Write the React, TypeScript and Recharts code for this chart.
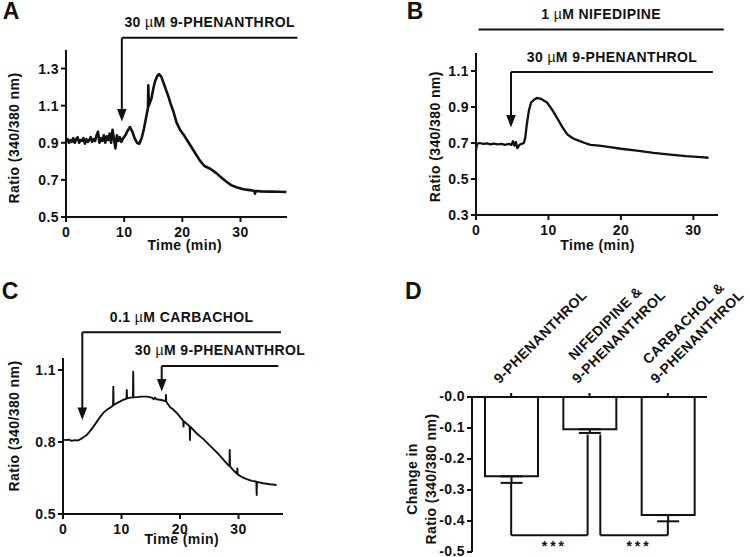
import React from 'react';
import { LineChart, Line, XAxis, YAxis, ReferenceLine, Label, BarChart, Bar, ErrorBar } from 'recharts';

const FONT = '"Liberation Sans", Arial, Helvetica, sans-serif';
const INK = '#111111';
const txt: React.CSSProperties = { fontFamily: FONT, fontWeight: 700, fontSize: 14, letterSpacing: 0.4, fill: INK };

// A: 9-phenanthrol alone
const timeA = [0, 0.25, 0.5, 0.75, 1, 1.25, 1.5, 1.75, 2, 2.25, 2.5, 2.75, 3, 3.25, 3.5, 3.75, 4, 4.25, 4.5, 4.75,
  5, 5.25, 5.5, 5.75, 6, 6.25, 6.5, 6.75, 7, 7.25, 7.5, 7.75, 8, 8.25, 8.5, 8.75, 9, 9.25, 9.5, 9.75,
  10.2, 10.6, 11.0, 11.4, 11.8, 12.2, 12.6, 13.0, 13.4, 13.8, 14.1, 14.15, 14.25, 14.7, 15.0, 15.3, 15.7, 16.0, 16.4, 16.8,
  17.2, 17.6, 18.0, 18.5, 19.0, 19.6, 20.2, 20.8, 21.4, 22.2, 23.0, 23.8, 24.8, 25.9, 26.8, 27.6, 28.4, 29.3, 30.5, 31.6,
  32.4, 32.5, 32.6, 33.5, 35, 36.5, 37.9];
const ratioA = [0.91, 0.92, 0.90, 0.915, 0.905, 0.925, 0.90, 0.92, 0.93, 0.90, 0.915, 0.91, 0.925, 0.895, 0.92, 0.905, 0.915, 0.93, 0.905, 0.92,
  0.91, 0.94, 0.96, 0.90, 0.925, 0.91, 0.94, 0.90, 0.935, 0.915, 0.95, 0.90, 0.97, 0.92, 0.87, 0.94, 0.91, 0.93, 0.905, 0.92,
  0.94, 0.965, 0.985, 0.96, 0.925, 0.90, 0.895, 0.925, 0.975, 1.04, 1.09, 1.21, 1.10, 1.14, 1.19, 1.23, 1.26, 1.27, 1.255, 1.22,
  1.185, 1.15, 1.11, 1.065, 1.01, 0.97, 0.945, 0.915, 0.885, 0.845, 0.805, 0.775, 0.76, 0.735, 0.71, 0.69, 0.672, 0.66, 0.65, 0.645,
  0.64, 0.625, 0.64, 0.638, 0.637, 0.636, 0.635];

// B: with nifedipine
const timeB = [0, 0.15, 0.5, 1, 1.5, 2, 2.5, 3, 3.5, 4, 4.5, 4.9, 5.1, 5.3, 5.5, 5.7, 6.0, 6.3, 6.6, 6.8,
  7.0, 7.3, 7.6, 8.0, 8.4, 9.0, 9.8, 10.5, 11.2, 11.9, 12.6, 13.3, 13.9, 15, 15.8, 17, 18.5, 20, 22.2, 24.5,
  26.8, 29, 31, 32.1];
const ratioB = [0.66, 0.695, 0.70, 0.695, 0.698, 0.693, 0.696, 0.692, 0.695, 0.69, 0.695, 0.69, 0.71, 0.685, 0.705, 0.672, 0.69, 0.695, 0.70, 0.73,
  0.80, 0.88, 0.925, 0.94, 0.95, 0.945, 0.925, 0.885, 0.838, 0.79, 0.748, 0.728, 0.717, 0.70, 0.69, 0.685, 0.677, 0.668, 0.658, 0.645,
  0.636, 0.627, 0.622, 0.618];

// C: with carbachol
const timeC = [0, 0.5, 1, 1.5, 2, 2.5, 3, 3.5, 4.05, 4.6, 5.2, 5.8, 6.4, 6.9, 7.6, 8.3, 8.55, 8.6, 8.65, 9.2,
  9.7, 10.3, 10.85, 10.9, 10.95, 11.5, 11.95, 12.0, 12.05, 12.6, 13.4, 14.3, 15.2, 15.5, 15.7, 16.0, 16.8, 17.55, 17.6, 17.65,
  18.3, 18.85, 19.4, 20.0, 20.55, 20.6, 20.65, 21.2, 21.65, 21.7, 21.75, 22.3, 23.0, 24.0, 25.1, 26.3, 27.3, 28.2, 28.45, 28.5,
  28.55, 29.2, 29.75, 29.8, 29.85, 30.5, 31.4, 32.3, 33.05, 33.1, 33.15, 34.2, 35.4, 36.5];
const ratioC = [0.81, 0.808, 0.81, 0.805, 0.808, 0.806, 0.812, 0.82, 0.829, 0.845, 0.864, 0.885, 0.906, 0.922, 0.936, 0.947, 0.952, 1.03, 0.954, 0.962,
  0.968, 0.976, 0.98, 1.017, 0.982, 0.985, 0.986, 1.093, 0.986, 0.987, 0.989, 0.989, 0.985, 0.978, 0.985, 0.978, 0.975, 0.97, 0.996, 0.968,
  0.945, 0.935, 0.922, 0.905, 0.888, 0.864, 0.887, 0.875, 0.866, 0.808, 0.864, 0.85, 0.832, 0.812, 0.785, 0.757, 0.73, 0.705, 0.70, 0.767,
  0.698, 0.68, 0.668, 0.69, 0.665, 0.655, 0.645, 0.638, 0.635, 0.579, 0.634, 0.628, 0.624, 0.621];

// D: summary
const groupLabels = [['9-PHENANTHROL'], ['NIFEDIPINE &', '9-PHENANTHROL'], ['CARBACHOL &', '9-PHENANTHROL']];
const changeMean = [-0.256, -0.104, -0.381];
const changeSem = [0.021, 0.012, 0.02];

type Drug = { dose: string; drug: string; start: number; end: number; level: number; tip?: number };
const drugsA: Drug[] = [{ dose: '30', drug: '9-PHENANTHROL', start: 9.6, end: 39.8, level: 1.466, tip: 1.014 }];
const drugsB: Drug[] = [
  { dose: '1', drug: 'NIFEDIPINE', start: 0.35, end: 34.2, level: 1.33 },
  { dose: '30', drug: '9-PHENANTHROL', start: 4.83, end: 32.7, level: 1.094, tip: 0.786 },
];
const drugsC: Drug[] = [
  { dose: '0.1', drug: 'CARBACHOL', start: 3.3, end: 37.26, level: 1.257, tip: 0.892 },
  { dose: '30', drug: '9-PHENANTHROL', start: 16.87, end: 36.8, level: 1.117, tip: 1.01 },
];

const rowsA = timeA.map((t, i) => ({ t, ratio: ratioA[i] }));
const rowsB = timeB.map((t, i) => ({ t, ratio: ratioB[i] }));
const rowsC = timeC.map((t, i) => ({ t, ratio: ratioC[i] }));
const groupPos = groupLabels.map((_, i) => i + 0.5);
const rowsD = changeMean.map((m, i) => ({ pos: groupPos[i], change: m, err: [changeSem[i], 0] }));

const axisStroke = { stroke: INK, strokeWidth: 2 };

const yTick = (p: any) => (
  <text x={p.x} y={p.y} dy={5} textAnchor="end" style={txt}>{Number(p.payload.value).toFixed(1)}</text>
);
const dTick = (p: any) => (
  <text x={p.x} y={p.y} dy={4} textAnchor="end" style={txt}>
    {p.payload.value === 0 ? '-0.0' : Number(p.payload.value).toFixed(1)}
  </text>
);
const xTick = (p: any) => (
  <text x={p.x} y={p.y} dy={11.5} textAnchor="middle" style={txt}>{p.payload.value}</text>
);
const catTick = (p: any) => {
  const idx = groupPos.indexOf(p.payload.value);
  const lines = groupLabels[idx] || [];
  const n = lines.length;
  return (
    <g transform={`translate(${p.x},${p.y}) rotate(-45)`}>
      {lines.map((l, i) => (
        <text key={l} x={59} y={-13 - (n - 1 - i) * 19} textAnchor="middle" style={txt}>{l}</text>
      ))}
    </g>
  );
};

const sideTitle = (lines: string[], baseX: number, cy: number, gap = 19) => () => (
  <text transform={`translate(0,${cy}) rotate(-90)`} textAnchor="middle" style={txt}>
    {lines.map((l, i) => <tspan key={l} x={0} y={baseX + i * gap}>{l}</tspan>)}
  </text>
);
const bottomTitle = (label: string, cx: number, baseY: number) => () => (
  <text x={cx} y={baseY} textAnchor="middle" style={txt}>{label}</text>
);

const arrowShape = (p: any) => {
  const { x1, y1, x2, y2 } = p;
  return (
    <g>
      <line x1={x1} y1={y1} x2={x2} y2={y2 - 11} stroke={INK} strokeWidth={2} />
      <path d={`M${x2 - 4.8},${y2 - 12.5}L${x2 + 4.8},${y2 - 12.5}L${x2},${y2}Z`} fill={INK} />
    </g>
  );
};

const drugLabel = (d: Drug) => (p: any) => {
  const vb = p.viewBox || { x: 0, y: 0, width: 0 };
  return (
    <text x={vb.x + vb.width / 2} y={vb.y - 10.5} textAnchor="middle" style={txt}>
      {d.dose} <tspan style={{ fontWeight: 400 }}>µ</tspan>M {d.drug}
    </text>
  );
};

const drugMarks = (drugs: Drug[], id: string) =>
  drugs.flatMap((d, i) => {
    const out = [
      <ReferenceLine key={`${id}h${i}`} segment={[{ x: d.start, y: d.level }, { x: d.end, y: d.level }]}
        ifOverflow="visible" stroke={INK} strokeWidth={2} label={<Label content={drugLabel(d)} />} />,
    ];
    if (d.tip !== undefined) {
      out.push(
        <ReferenceLine key={`${id}v${i}`} segment={[{ x: d.start, y: d.level }, { x: d.start, y: d.tip }]}
          ifOverflow="visible" stroke={INK} strokeWidth={2} shape={arrowShape} />
      );
    }
    return out;
  });

type TraceProps = {
  rows: any[]; width: number; height: number; margin: any;
  xMax: number; yDomain: number[]; yTicks: number[]; drugs: Drug[]; id: string;
  yTitleX: number; yTitleY: number; xTitleX: number; xTitleY: number; lineW: number;
};

const Trace = (p: TraceProps) => (
  <LineChart width={p.width} height={p.height} data={p.rows} margin={p.margin}>
    <XAxis type="number" dataKey="t" domain={[0, p.xMax]} ticks={[0, 10, 20, 30]} interval={0} height={30}
      axisLine={axisStroke} tickLine={axisStroke} tickSize={5} tickMargin={3} tick={xTick}>
      <Label content={bottomTitle('Time (min)', p.xTitleX, p.xTitleY)} />
    </XAxis>
    <YAxis type="number" domain={p.yDomain} ticks={p.yTicks} interval={0} width={50}
      axisLine={axisStroke} tickLine={axisStroke} tickSize={5} tickMargin={2} tick={yTick}>
      <Label content={sideTitle(['Ratio (340/380 nm)'], p.yTitleX, p.yTitleY)} />
    </YAxis>
    <Line type="linear" dataKey="ratio" stroke={INK} strokeWidth={p.lineW} strokeLinejoin="round"
      dot={false} activeDot={false} isAnimationActive={false} />
    {drugMarks(p.drugs, p.id)}
  </LineChart>
);

const starLabel = (p: any) => {
  const vb = p.viewBox || { x: 0, y: 0, width: 0 };
  return (
    <text x={vb.x + vb.width / 2 + 5} y={vb.y + 15.5} textAnchor="middle"
      style={{ ...txt, fontSize: 14, letterSpacing: 3 }}>***</text>
  );
};

const bracketLevel = -0.446;
const errEnd = changeMean.map((m, i) => m - changeSem[i]);
const brackets = [
  { from: groupPos[0], to: 1.476, fromTop: errEnd[0], toTop: errEnd[1] - 0.005 },
  { from: 1.638, to: groupPos[2], fromTop: errEnd[1] - 0.005, toTop: errEnd[2] },
];

const Summary = () => (
  <BarChart width={375} height={277} data={rowsD} margin={{ top: 87, right: 43, bottom: 5, left: 47 }}>
    <XAxis type="number" dataKey="pos" orientation="top" domain={[0, 3]} ticks={groupPos} interval={0} height={30}
      axisLine={axisStroke} tickLine={axisStroke} tickSize={4} tickMargin={2} tick={catTick} />
    <YAxis type="number" domain={[-0.5, 0]} ticks={[-0.5, -0.4, -0.3, -0.2, -0.1, 0]} interval={0} width={50}
      axisLine={axisStroke} tickLine={axisStroke} tickSize={5} tickMargin={2} tick={dTick}>
      <Label content={sideTitle(['Change in', 'Ratio (340/380 nm)'], 41.7, 199, 19.3)} />
    </YAxis>
    <Bar dataKey="change" fill="#ffffff" stroke={INK} strokeWidth={2} barSize={53} isAnimationActive={false}>
      <ErrorBar dataKey="err" width={11} stroke={INK} strokeWidth={2} direction="y" />
    </Bar>
    {brackets.flatMap((b, i) => [
      <ReferenceLine key={`bl${i}`} segment={[{ x: b.from, y: b.fromTop }, { x: b.from, y: bracketLevel }]}
        ifOverflow="visible" stroke={INK} strokeWidth={2} />,
      <ReferenceLine key={`bh${i}`} segment={[{ x: b.from, y: bracketLevel }, { x: b.to, y: bracketLevel }]}
        ifOverflow="visible" stroke={INK} strokeWidth={2} label={<Label content={starLabel} />} />,
      <ReferenceLine key={`br${i}`} segment={[{ x: b.to, y: bracketLevel }, { x: b.to, y: b.toTop }]}
        ifOverflow="visible" stroke={INK} strokeWidth={2} />,
    ])}
  </BarChart>
);

const letterStyle: React.CSSProperties = { fontFamily: FONT, fontWeight: 700, fontSize: 23, fill: INK };

export default function App() {
  return (
    <div style={{ position: 'absolute', left: 0, top: 0, width: 750, height: 557, background: '#fff', overflow: 'hidden' }}>
      <div style={{ position: 'absolute', left: 0, top: 0 }}>
        <Trace rows={rowsA} width={310} height={270} margin={{ top: 50, right: 23, bottom: 23, left: 16 }}
          xMax={38} yDomain={[0.5, 1.4]} yTicks={[0.5, 0.7, 0.9, 1.1, 1.3]} drugs={drugsA} id="a"
          yTitleX={19} yTitleY={138} xTitleX={184.7} xTitleY={249.5} lineW={2.6} />
      </div>
      <div style={{ position: 'absolute', left: 375, top: 0 }}>
        <Trace rows={rowsB} width={375} height={270} margin={{ top: 53, right: 32, bottom: 25, left: 51 }}
          xMax={33.4} yDomain={[0.3, 1.2]} yTicks={[0.3, 0.5, 0.7, 0.9, 1.1]} drugs={drugsB} id="b"
          yTitleX={65} yTitleY={136.7} xTitleX={222.5} xTitleY={249.5} lineW={2.3} />
      </div>
      <div style={{ position: 'absolute', left: 0, top: 280 }}>
        <Trace rows={rowsC} width={320} height={277} margin={{ top: 78, right: 37, bottom: 13, left: 13 }}
          xMax={37.6} yDomain={[0.5, 1.15]} yTicks={[0.5, 0.8, 1.1]} drugs={drugsC} id="c"
          yTitleX={19} yTitleY={146} xTitleX={181.7} xTitleY={263.5} lineW={1.9} />
      </div>
      <div style={{ position: 'absolute', left: 375, top: 280 }}>
        <Summary />
      </div>
      <svg width={750} height={557} style={{ position: 'absolute', left: 0, top: 0, pointerEvents: 'none' }}>
        <text x={2.7} y={18.8} style={letterStyle}>A</text>
        <text x={406.7} y={18.8} style={letterStyle}>B</text>
        <text x={1.7} y={298.5} style={letterStyle}>C</text>
        <text x={405} y={298.5} style={letterStyle}>D</text>
      </svg>
    </div>
  );
}
